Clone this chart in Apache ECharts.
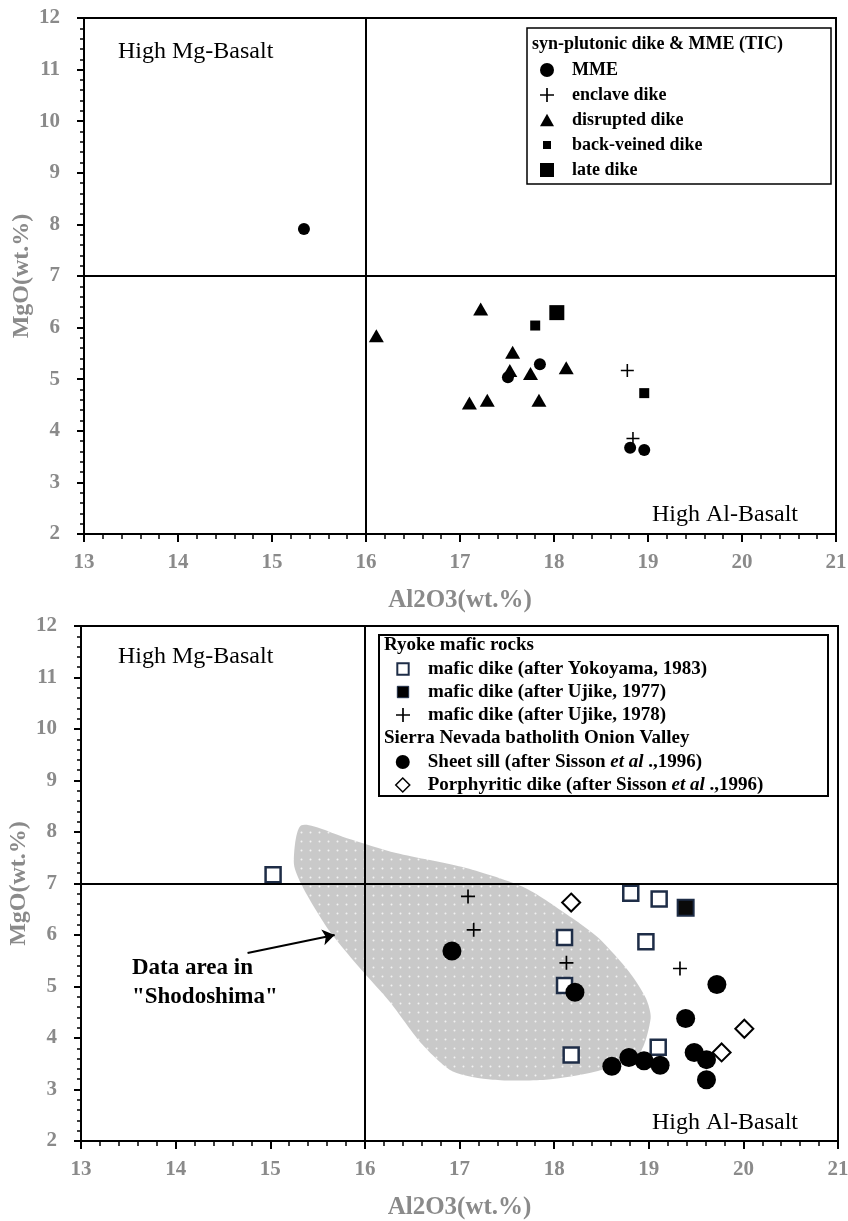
<!DOCTYPE html>
<html>
<head>
<meta charset="utf-8">
<script src="https://cdn.jsdelivr.net/npm/echarts@6/dist/echarts.min.js"></script>
<style>html,body{margin:0;padding:0;background:#fff;}</style>
</head>
<body>
<div id="main" style="width:848px;height:1221px;"></div>
<script type="text/javascript">
// axis ranges (both panels)
var xMin = 13, xMax = 21, yMin = 2, yMax = 12;
var xLimit = 16, yLimit = 7;

// upper panel: syn-plutonic dike & MME (TIC)  [Al2O3, MgO]
var mmeData = [[15.34, 7.91], [17.85, 5.29], [17.51, 5.04], [18.81, 3.67], [18.96, 3.63]];
var enclaveData = [[18.78, 5.17], [18.84, 3.85]];
var disruptedData = [[16.11, 5.84], [17.22, 6.36], [17.56, 5.52], [17.53, 5.17], [17.75, 5.11],
	[18.13, 5.22], [17.10, 4.54], [17.29, 4.59], [17.84, 4.59]];
var backVeinedData = [[17.80, 6.04], [18.96, 4.73]];
var lateDikeData = [[18.03, 6.29]];

// lower panel: Ryoke mafic rocks / Sierra Nevada
var yokoyamaData = [[15.03, 7.17], [18.11, 5.95], [18.11, 5.02], [18.18, 3.67], [18.81, 6.81],
	[19.11, 6.70], [18.97, 5.87], [19.10, 3.82]];
var ujike1977Data = [[19.39, 6.53]];
var ujike1978Data = [[17.09, 6.75], [17.15, 6.10], [18.13, 5.46], [19.33, 5.35]];
var sheetSillData = [[16.92, 5.69], [18.22, 4.89], [19.72, 5.04], [19.39, 4.38], [18.61, 3.45],
	[18.79, 3.62], [18.95, 3.56], [19.12, 3.47], [19.48, 3.72], [19.61, 3.58], [19.61, 3.19]];
var porphyriticData = [[18.18, 6.63], [20.01, 4.18], [19.77, 3.72]];

// outline of the "Shodoshima" data area
var shodoX = [15.33, 15.25, 15.35, 15.63, 15.98, 16.26, 16.61, 16.93, 17.35, 17.91, 18.44,
	18.89, 19.02, 18.97, 18.79, 18.47, 18.19, 17.70, 17.07, 16.33, 15.81];
var shodoY = [8.13, 7.39, 6.91, 6.07, 5.29, 4.71, 3.87, 3.35, 3.19, 3.19, 3.35,
	3.67, 4.38, 4.77, 5.29, 5.94, 6.33, 6.91, 7.30, 7.59, 7.88];
var arrowCoords = [[14.76, 5.65], [15.68, 6.0]];

var SERIF = '"Liberation Serif", "Times New Roman", serif';
var GRAY = '#8a8a8a';
var NAVY = '#1e2d47';
var PLUS = 'path://M0,4.4h10v1.2h-10z M4.4,0h1.2v10h-1.2z';
var TRI = 'path://M5,0L10,9L0,9z';
var SQUARE = 'path://M0,0h10v10h-10z';
var SMALL_SQUARE = 'path://M0,0M14,14M3,3h8v8h-8z';
var OPEN_SQUARE = 'path://M0,0M16,16M1.5,1.5h13v13h-13z';
var DIAMOND = 'path://M5,0L10,5L5,10L0,5z';

// dotted gray fill
var tile = document.createElement('canvas');
tile.width = 9; tile.height = 9;
var tctx = tile.getContext('2d');
tctx.fillStyle = '#c9c9c9';
tctx.fillRect(0, 0, 9, 9);
tctx.fillStyle = '#f2f2f2';
tctx.beginPath();
tctx.arc(4.5, 4.5, 1, 0, Math.PI * 2);
tctx.fill();

function xAxisOf(gi) {
	return {
		type: 'value', gridIndex: gi, min: xMin, max: xMax, interval: 1,
		name: 'Al2O3(wt.%)', nameLocation: 'middle', nameGap: 54, nameMoveOverlap: false,
		nameTextStyle: { fontFamily: SERIF, fontWeight: 'bold', fontSize: 25, color: GRAY },
		axisLine: { show: true, onZero: false, lineStyle: { color: '#000', width: 2 } },
		axisTick: { show: true, inside: false, length: 8, lineStyle: { color: '#000', width: 2 } },
		minorTick: { show: true, splitNumber: 5, length: 5, lineStyle: { color: '#000', width: 1.5 } },
		axisLabel: { show: true, margin: 18, hideOverlap: false, fontFamily: SERIF, fontWeight: 'bold', fontSize: 21, color: GRAY },
		splitLine: { show: false }, minorSplitLine: { show: false }
	};
}
function yAxisOf(gi) {
	return {
		type: 'value', gridIndex: gi, min: yMin, max: yMax, interval: 1,
		name: 'MgO(wt.%)', nameLocation: 'middle', nameGap: 50, nameRotate: 90, nameMoveOverlap: false,
		nameTextStyle: { fontFamily: SERIF, fontWeight: 'bold', fontSize: 24, color: GRAY },
		axisLine: { show: true, onZero: false, lineStyle: { color: '#000', width: 2 } },
		axisTick: { show: true, inside: false, length: 7, lineStyle: { color: '#000', width: 2 } },
		minorTick: { show: true, splitNumber: 5, length: 4, lineStyle: { color: '#000', width: 1.5 } },
		axisLabel: { show: true, margin: 24, hideOverlap: false, fontFamily: SERIF, fontWeight: 'bold', fontSize: 21, color: GRAY },
		splitLine: { show: false }, minorSplitLine: { show: false }
	};
}

var limitLines = {
	silent: true, symbol: ['none', 'none'], label: { show: false },
	lineStyle: { color: '#000', width: 2, type: 'solid' },
	emphasis: { disabled: true },
	data: [{ xAxis: xLimit }, { yAxis: yLimit }]
};

var legendText = { fontFamily: SERIF, fontWeight: 'bold', fontSize: 18, lineHeight: 20, color: '#000', padding: [0, 0, 0, 13] };
var legendText2 = {
	fontFamily: SERIF, fontWeight: 'bold', fontSize: 19, lineHeight: 20, color: '#000', padding: [0, 0, 0, 13],
	rich: { i: { fontFamily: SERIF, fontWeight: 'bold', fontStyle: 'italic', fontSize: 19, lineHeight: 20, color: '#000' } }
};
function italicEtAl(name) { return name.replace('et al', '{i|et al}'); }

var myChart = echarts.init(document.getElementById('main'));

var option = {
	animation: false,
	backgroundColor: '#fff',
	grid: [
		{ left: 84, top: 18, width: 752, height: 516, show: true, borderColor: '#000', borderWidth: 2, backgroundColor: 'transparent', outerBoundsMode: 'none' },
		{ left: 81, top: 626, width: 757, height: 515, show: true, borderColor: '#000', borderWidth: 2, backgroundColor: 'transparent', outerBoundsMode: 'none' }
	],
	xAxis: [xAxisOf(0), xAxisOf(1)],
	yAxis: [yAxisOf(0), yAxisOf(1)],
	legend: [
		{
			left: 540, top: 60, orient: 'vertical', padding: 0, itemWidth: 14, itemHeight: 14, itemGap: 5,
			symbolKeepAspect: true, selectedMode: false, textStyle: legendText,
			data: [
				{ name: 'MME', icon: 'circle' },
				{ name: 'enclave dike', icon: PLUS },
				{ name: 'disrupted dike', icon: TRI },
				{ name: 'back-veined dike', icon: SMALL_SQUARE },
				{ name: 'late dike', icon: SQUARE }
			]
		},
		{
			left: 395, top: 659, orient: 'vertical', padding: 0, itemWidth: 14, itemHeight: 14, itemGap: 3,
			symbolKeepAspect: true, selectedMode: false, textStyle: legendText2, formatter: italicEtAl,
			data: [
				{ name: 'mafic dike (after Yokoyama, 1983)', icon: OPEN_SQUARE, itemStyle: { color: '#fff', borderColor: NAVY, borderWidth: 2 } },
				{ name: 'mafic dike (after Ujike, 1977)', icon: OPEN_SQUARE, itemStyle: { color: '#000', borderColor: NAVY, borderWidth: 1 } },
				{ name: 'mafic dike (after Ujike, 1978)', icon: PLUS }
			]
		},
		{
			left: 395, top: 752, orient: 'vertical', padding: 0, itemWidth: 14, itemHeight: 14, itemGap: 3,
			symbolKeepAspect: true, selectedMode: false, textStyle: legendText2, formatter: italicEtAl,
			data: [
				{ name: 'Sheet sill (after Sisson et al .,1996)', icon: 'circle' },
				{ name: 'Porphyritic dike (after Sisson et al .,1996)', icon: DIAMOND, itemStyle: { color: '#fff', borderColor: '#000', borderWidth: 1.5 } }
			]
		}
	],
	graphic: [
		{ type: 'rect', z: 3, silent: true, shape: { x: 527, y: 28, width: 304, height: 156 }, style: { fill: '#fff', stroke: '#000', lineWidth: 1.5 } },
		{ type: 'text', z: 5, silent: true, x: 532, y: 44, style: { text: 'syn-plutonic dike & MME (TIC)', font: 'bold 18px ' + SERIF, fill: '#000', align: 'left', verticalAlign: 'middle' } },
		{ type: 'rect', z: 3, silent: true, shape: { x: 379, y: 635, width: 449, height: 161 }, style: { fill: '#fff', stroke: '#000', lineWidth: 2 } },
		{ type: 'text', z: 5, silent: true, x: 384, y: 645, style: { text: 'Ryoke mafic rocks', font: 'bold 19px ' + SERIF, fill: '#000', align: 'left', verticalAlign: 'middle' } },
		{ type: 'text', z: 5, silent: true, x: 384, y: 738, style: { text: 'Sierra Nevada batholith Onion Valley', font: 'bold 19px ' + SERIF, fill: '#000', align: 'left', verticalAlign: 'middle' } },
		{ type: 'text', z: 5, silent: true, x: 118, y: 52, style: { text: 'High Mg-Basalt', font: '24px ' + SERIF, fill: '#000', align: 'left', verticalAlign: 'middle' } },
		{ type: 'text', z: 5, silent: true, x: 798, y: 515, style: { text: 'High Al-Basalt', font: '24px ' + SERIF, fill: '#000', align: 'right', verticalAlign: 'middle' } },
		{ type: 'text', z: 5, silent: true, x: 118, y: 657, style: { text: 'High Mg-Basalt', font: '24px ' + SERIF, fill: '#000', align: 'left', verticalAlign: 'middle' } },
		{ type: 'text', z: 5, silent: true, x: 798, y: 1123, style: { text: 'High Al-Basalt', font: '24px ' + SERIF, fill: '#000', align: 'right', verticalAlign: 'middle' } },
		{ type: 'text', z: 5, silent: true, x: 132, y: 968, style: { text: 'Data area in', font: 'bold 23px ' + SERIF, fill: '#000', align: 'left', verticalAlign: 'middle' } },
		{ type: 'text', z: 5, silent: true, x: 132, y: 997, style: { text: '"Shodoshima"', font: 'bold 23px ' + SERIF, fill: '#000', align: 'left', verticalAlign: 'middle' } }
	],
	series: [
		// ---- upper panel
		{ name: 'MME', type: 'scatter', xAxisIndex: 0, yAxisIndex: 0, z: 2, symbol: 'circle', symbolSize: 12,
			itemStyle: { color: '#000', opacity: 1 }, data: mmeData, markLine: limitLines },
		{ name: 'enclave dike', type: 'scatter', xAxisIndex: 0, yAxisIndex: 0, z: 2, symbol: PLUS, symbolSize: 13,
			itemStyle: { color: '#000', opacity: 1 }, data: enclaveData },
		{ name: 'disrupted dike', type: 'scatter', xAxisIndex: 0, yAxisIndex: 0, z: 2, symbol: 'triangle', symbolSize: [15, 13],
			itemStyle: { color: '#000', opacity: 1 }, data: disruptedData },
		{ name: 'back-veined dike', type: 'scatter', xAxisIndex: 0, yAxisIndex: 0, z: 2, symbol: 'rect', symbolSize: 10,
			itemStyle: { color: '#000', opacity: 1 }, data: backVeinedData },
		{ name: 'late dike', type: 'scatter', xAxisIndex: 0, yAxisIndex: 0, z: 2, symbol: 'rect', symbolSize: 15,
			itemStyle: { color: '#000', opacity: 1 }, data: lateDikeData },
		// ---- lower panel
		{ type: 'custom', xAxisIndex: 1, yAxisIndex: 1, z: 1, silent: true,
			data: [[shodoX[0], shodoY[0]]],
			renderItem: function (params, api) {
				var pts = shodoX.map(function (x, i) { return api.coord([x, shodoY[i]]); });
				return { type: 'polygon', shape: { points: pts, smooth: 0.25 },
					style: { fill: { image: tile, repeat: 'repeat' }, stroke: null } };
			}
		},
		{ type: 'lines', coordinateSystem: 'cartesian2d', xAxisIndex: 1, yAxisIndex: 1, z: 3, silent: true,
			symbol: ['none', 'arrow'], symbolSize: 12,
			lineStyle: { color: '#000', width: 2, opacity: 1, curveness: 0 },
			data: [{ coords: arrowCoords }] },
		{ name: 'mafic dike (after Yokoyama, 1983)', type: 'scatter', xAxisIndex: 1, yAxisIndex: 1, z: 2, symbol: 'rect', symbolSize: 15,
			itemStyle: { color: '#fff', borderColor: NAVY, borderWidth: 2.5, opacity: 1 }, data: yokoyamaData, markLine: limitLines },
		{ name: 'mafic dike (after Ujike, 1977)', type: 'scatter', xAxisIndex: 1, yAxisIndex: 1, z: 2, symbol: 'rect', symbolSize: 16,
			itemStyle: { color: '#0a0a0a', borderColor: NAVY, borderWidth: 2, opacity: 1 }, data: ujike1977Data },
		{ name: 'mafic dike (after Ujike, 1978)', type: 'scatter', xAxisIndex: 1, yAxisIndex: 1, z: 2, symbol: PLUS, symbolSize: 14,
			itemStyle: { color: '#000', opacity: 1 }, data: ujike1978Data },
		{ name: 'Sheet sill (after Sisson et al .,1996)', type: 'scatter', xAxisIndex: 1, yAxisIndex: 1, z: 2, symbol: 'circle', symbolSize: 19,
			itemStyle: { color: '#000', opacity: 1 }, data: sheetSillData },
		{ name: 'Porphyritic dike (after Sisson et al .,1996)', type: 'scatter', xAxisIndex: 1, yAxisIndex: 1, z: 2, symbol: 'diamond', symbolSize: 18,
			itemStyle: { color: '#fff', borderColor: '#000', borderWidth: 2, opacity: 1 }, data: porphyriticData }
	]
};

myChart.setOption(option);
</script>
</body>
</html>
